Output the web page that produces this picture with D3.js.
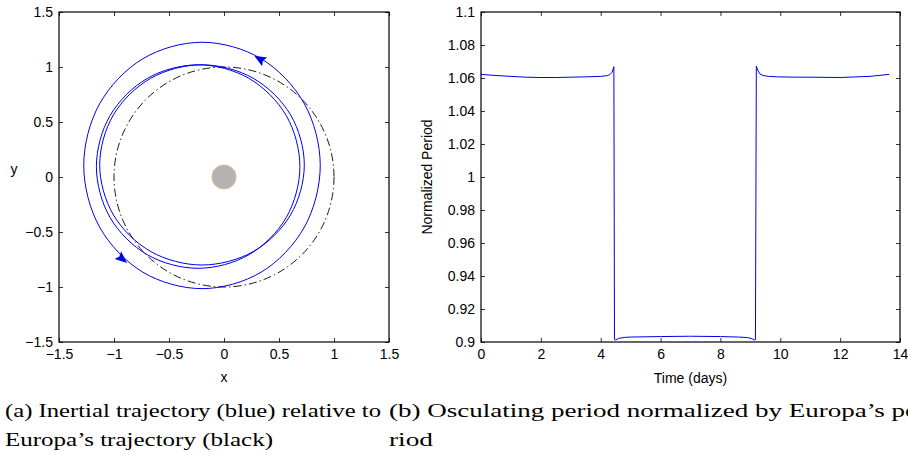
<!DOCTYPE html>
<html>
<head>
<meta charset="utf-8">
<script src="https://cdn.jsdelivr.net/npm/d3@7"></script>
<style>
  body { margin: 0; background: #fff; }
  svg text { font-family: "Liberation Sans", Arial, sans-serif; }
  .cap { font-family: "Liberation Serif", "Times New Roman", serif; }
</style>
</head>
<body>
<svg id="chart" width="908" height="464"></svg>
<script>
// Panel (a): trajectory points (x, y in Europa radii)
const outerLoop = [
  [0.875, 0.105], [0.731, 0.665], [0.338, 1.075], [-0.2, 1.225], [-0.738, 1.075], [-1.131, 0.665],
  [-1.275, 0.105], [-1.131, -0.455], [-0.738, -0.865], [-0.2, -1.015], [0.338, -0.865], [0.731, -0.455]
];
const innerLoopA = [
  [0.73, 0.11], [0.605, 0.565], [0.265, 0.898], [-0.2, 1.02], [-0.665, 0.898], [-1.005, 0.565],
  [-1.13, 0.11], [-1.005, -0.345], [-0.665, -0.678], [-0.2, -0.80], [0.265, -0.678], [0.605, -0.345]
];
const innerLoopB = [
  [0.69, 0.095], [0.566, 0.558], [0.228, 0.896], [-0.235, 1.02], [-0.698, 0.896], [-1.036, 0.558],
  [-1.16, 0.095], [-1.036, -0.368], [-0.698, -0.706], [-0.235, -0.83], [0.228, -0.706], [0.566, -0.368]
];
const europaRadius = 1;
const jupiterRadius = 0.11;
const arrowMarks = [
  { x: 0.33, y: 1.07, angle: 150 },
  { x: -0.93, y: -0.74, angle: -40 }
];
const xyTicks = [-1.5, -1, -0.5, 0, 0.5, 1, 1.5];

// Panel (b): osculating period
const days = [0, 0.5, 1, 1.5, 2, 2.5, 3, 3.5, 4, 4.2, 4.3, 4.38, 4.44, 4.46, 4.5, 4.6, 4.8, 5, 6, 7, 8, 8.6, 8.9, 9.05, 9.13, 9.17, 9.2, 9.25, 9.32, 9.42, 9.6, 9.9, 10.5, 11, 12, 13, 13.64];
const period = [1.0622, 1.0615, 1.061, 1.0605, 1.0603, 1.0603, 1.0605, 1.0607, 1.061, 1.0614, 1.062, 1.0635, 1.0668, 0.9015, 0.9012, 0.9022, 0.9028, 0.903, 0.9033, 0.9035, 0.9033, 0.903, 0.9027, 0.902, 0.9012, 0.9015, 1.0672, 1.0645, 1.0625, 1.0615, 1.061, 1.0607, 1.0605, 1.0605, 1.0603, 1.061, 1.0622];
const timeTicks = [0, 2, 4, 6, 8, 10, 12, 14];
const periodTicks = [0.9, 0.92, 0.94, 0.96, 0.98, 1, 1.02, 1.04, 1.06, 1.08, 1.1];

const svg = d3.select('#chart');
const blue = '#0000e6';

function frame(g, x, y, w, h, xt, yt, fmt) {
  const tl = 4;
  g.append('g').attr('transform', `translate(0,${h})`)
    .call(d3.axisBottom(x).tickValues(xt).tickSize(-tl).tickPadding(7).tickFormat(fmt))
    .call(a => a.select('.domain').remove());
  g.append('g')
    .call(d3.axisTop(x).tickValues(xt).tickSize(-tl).tickFormat(''))
    .call(a => a.select('.domain').remove());
  g.append('g')
    .call(d3.axisLeft(y).tickValues(yt).tickSize(-tl).tickPadding(6).tickFormat(fmt))
    .call(a => a.select('.domain').remove());
  g.append('g').attr('transform', `translate(${w},0)`)
    .call(d3.axisRight(y).tickValues(yt).tickSize(-tl).tickFormat(''))
    .call(a => a.select('.domain').remove());
  g.selectAll('.tick text').attr('font-size', '14px').attr('fill', '#000')
    .attr('font-family', '"Liberation Sans", Arial, sans-serif');
  g.selectAll('.tick line').attr('stroke', '#000').attr('stroke-width', 0.8);
  g.append('rect').attr('width', w).attr('height', h)
    .attr('fill', 'none').attr('stroke', '#000').attr('stroke-width', 1.2);
}

const numFmt = d => (d < 0 ? '\u2212' : '') + Math.abs(+d.toFixed(2));

// ---- Panel (a)
const a = { left: 59, top: 12, w: 330, h: 330 };
const ga = svg.append('g').attr('transform', `translate(${a.left},${a.top})`);
const xa = d3.scaleLinear().domain([-1.5, 1.5]).range([0, a.w]);
const ya = d3.scaleLinear().domain([-1.5, 1.5]).range([a.h, 0]);

const line = d3.line().x(d => xa(d[0])).y(d => ya(d[1])).curve(d3.curveCatmullRomClosed);

// Europa orbit, dash-dot
ga.append('circle')
  .attr('cx', xa(0)).attr('cy', ya(0)).attr('r', xa(europaRadius) - xa(0))
  .attr('fill', 'none').attr('stroke', '#000').attr('stroke-width', 0.9)
  .attr('stroke-dasharray', '8,3,1.5,3');

[outerLoop, innerLoopA, innerLoopB].forEach(loop => {
  ga.append('path').attr('d', line(loop))
    .attr('fill', 'none').attr('stroke', blue).attr('stroke-width', 1);
});

ga.append('circle')
  .attr('cx', xa(0)).attr('cy', ya(0)).attr('r', xa(jupiterRadius) - xa(0))
  .attr('fill', '#b3b3b3').attr('stroke', '#e8b88a').attr('stroke-width', 0.8);

ga.selectAll('.arrow').data(arrowMarks).join('path')
  .attr('d', 'M7,0 L-5,-5 L-3,0 L-5,5 Z')
  .attr('transform', d => `translate(${xa(d.x)},${ya(d.y)}) rotate(${-d.angle})`)
  .attr('fill', blue);

frame(ga, xa, ya, a.w, a.h, xyTicks, xyTicks, numFmt);

svg.append('text').attr('x', xa(0) + a.left).attr('y', 382).attr('text-anchor', 'middle')
  .attr('font-size', '14px').text('x');
svg.append('text').attr('x', 14).attr('y', 174).attr('text-anchor', 'middle')
  .attr('font-size', '14px').text('y');

// ---- Panel (b)
const b = { left: 481, top: 12, w: 419, h: 330 };
const gb = svg.append('g').attr('transform', `translate(${b.left},${b.top})`);
const xb = d3.scaleLinear().domain([0, 14]).range([0, b.w]);
const yb = d3.scaleLinear().domain([0.9, 1.1]).range([b.h, 0]);

gb.append('path')
  .attr('d', d3.line().x((d, i) => xb(days[i])).y(d => yb(d))(period))
  .attr('fill', 'none').attr('stroke', blue).attr('stroke-width', 1);

frame(gb, xb, yb, b.w, b.h, timeTicks, periodTicks, numFmt);

svg.append('text').attr('x', b.left + b.w / 2).attr('y', 383).attr('text-anchor', 'middle')
  .attr('font-size', '14px').text('Time (days)');
svg.append('text').attr('transform', `translate(432,${b.top + b.h / 2}) rotate(-90)`)
  .attr('text-anchor', 'middle').attr('font-size', '14px').text('Normalized Period');

// ---- Captions
const caps = [
  { x: 5, y: 417, t: '(a) Inertial trajectory (blue) relative to', len: 376 },
  { x: 5, y: 446, t: 'Europa\u2019s trajectory (black)', len: 268 },
  { x: 389, y: 417, t: '(b) Osculating period normalized by Europa\u2019s pe', len: 528 },
  { x: 389, y: 446, t: 'riod', len: 44 }
];
svg.selectAll('.cap').data(caps).join('text')
  .attr('class', 'cap')
  .attr('x', d => d.x).attr('y', d => d.y)
  .attr('font-size', '18px')
  .attr('textLength', d => d.len).attr('lengthAdjust', 'spacingAndGlyphs')
  .text(d => d.t);
</script>
</body>
</html>
